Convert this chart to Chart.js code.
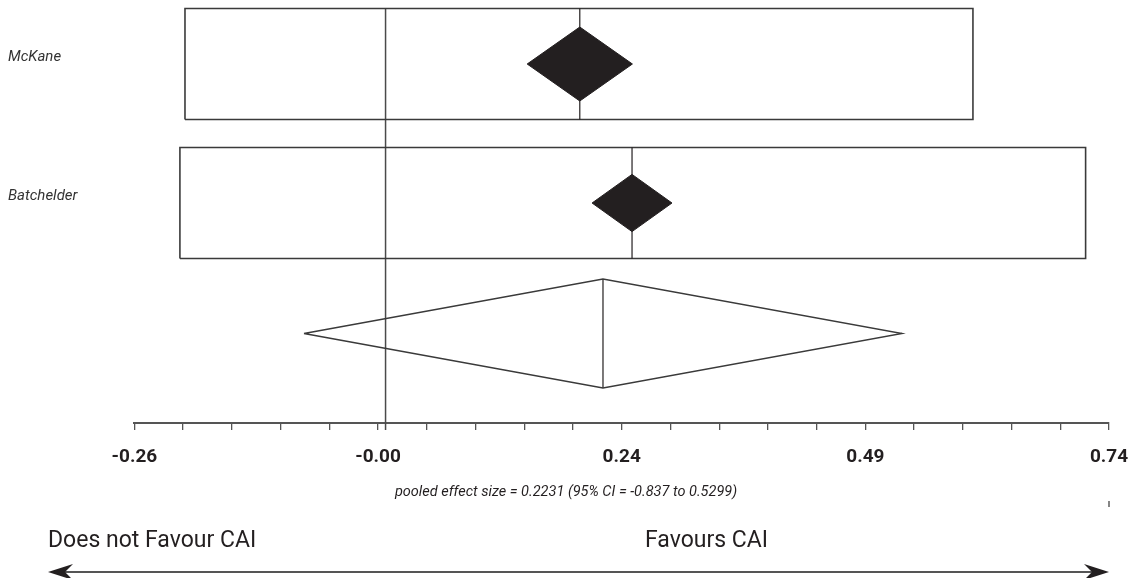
<!DOCTYPE html>
<html>
<head>
<meta charset="utf-8">
<script src="https://cdn.jsdelivr.net/npm/chart.js@4/dist/chart.umd.min.js"></script>
<style>
  html, body { margin: 0; padding: 0; background: #fff; }
  canvas { display: block; }
</style>
</head>
<body>
<canvas id="forest" width="1133" height="578"></canvas>
<script>
// data
const studies = ["McKane", "Batchelder"];
const effect = [0.1993, 0.2529];
const ciLow = [-0.2058, -0.2110];
const ciHigh = [0.6027, 0.7183];
const pooled = { effect: 0.2231, low: -0.0837, high: 0.5299 };
const tickLabels = ["-0.26", "-0.00", "0.24", "0.49", "0.74"];

// axis range and layout
const xMin = -0.2577, xMax = 0.7423, minorStep = 0.05;
const rowPos = [3.59, 2.20];
const pooledRow = 0.895;
const boxHalf = 0.555;
const diamondHalfW = [0.054, 0.041];
const diamondHalfH = [0.37, 0.286];
const pooledHalfH = 0.545;

const INK = "#231f20";
const LINE = "#3a3a3a";

function rect(lo, hi, c, h) {
  return [
    { x: lo, y: c - h }, { x: hi, y: c - h }, { x: hi, y: c + h },
    { x: lo, y: c + h }, { x: lo, y: c - h }
  ];
}

function diamond(lo, c, hi, y, hh) {
  return [
    { x: lo, y: y }, { x: c, y: y + hh }, { x: hi, y: y },
    { x: c, y: y - hh }, { x: lo, y: y }
  ];
}

function lineSet(data, color, width, extra) {
  return Object.assign({
    data, showLine: true, borderColor: color, borderWidth: width,
    pointRadius: 0, pointHoverRadius: 0, fill: false, tension: 0
  }, extra || {});
}

const datasets = [];

// zero line
datasets.push(lineSet([{ x: 0, y: rowPos[0] + boxHalf }, { x: 0, y: -0.07 }], "#4a4a4a", 1.5, { order: 5, clip: false }));

studies.forEach((s, i) => {
  datasets.push(lineSet(rect(ciLow[i], ciHigh[i], rowPos[i], boxHalf), LINE, 1.6, { order: 4 }));
  datasets.push(lineSet([{ x: effect[i], y: rowPos[i] - boxHalf }, { x: effect[i], y: rowPos[i] + boxHalf }], INK, 1.2, { order: 3 }));
  datasets.push(lineSet(diamond(effect[i] - diamondHalfW[i], effect[i], effect[i] + diamondHalfW[i], rowPos[i], diamondHalfH[i]), INK, 1, {
    order: 1, fill: "shape", backgroundColor: INK
  }));
});

// pooled estimate
datasets.push(lineSet(diamond(pooled.low, pooled.effect, pooled.high, pooledRow, pooledHalfH), LINE, 1.4, { order: 2 }));
datasets.push(lineSet([{ x: pooled.effect, y: pooledRow - pooledHalfH }, { x: pooled.effect, y: pooledRow + pooledHalfH }], INK, 1.2, { order: 3 }));

function drawArrowHead(ctx, tipX, y, dir) {
  ctx.beginPath();
  ctx.moveTo(tipX, y);
  ctx.lineTo(tipX + dir * 25, y - 8);
  ctx.lineTo(tipX + dir * 17, y);
  ctx.lineTo(tipX + dir * 25, y + 8);
  ctx.closePath();
  ctx.fill();
}

const annotations = {
  id: "annotations",
  afterDraw(chart) {
    const ctx = chart.ctx;
    const x = chart.scales.x;
    const right = x.getPixelForValue(xMax);
    ctx.save();
    ctx.fillStyle = INK;
    ctx.textBaseline = "middle";

    ctx.font = "italic 14.5px Roboto";
    ctx.textAlign = "center";
    ctx.fillText("pooled effect size = 0.2231 (95% CI = -0.837 to 0.5299)", 566, 492);

    ctx.strokeStyle = "#444";
    ctx.lineWidth = 1.3;
    ctx.beginPath();
    ctx.moveTo(right, 501);
    ctx.lineTo(right, 507);
    ctx.stroke();

    ctx.font = "23px Roboto";
    ctx.textAlign = "left";
    ctx.fillText("Does not Favour CAI", 48, 541);
    ctx.fillText("Favours CAI", 645, 541);

    ctx.strokeStyle = "#555";
    ctx.lineWidth = 2;
    ctx.beginPath();
    ctx.moveTo(60, 572);
    ctx.lineTo(right - 12, 572);
    ctx.stroke();
    drawArrowHead(ctx, 48, 572, 1);
    drawArrowHead(ctx, right, 572, -1);
    ctx.restore();
  }
};

Chart.defaults.font.family = "Roboto";
Chart.defaults.color = INK;

new Chart(document.getElementById("forest"), {
  type: "scatter",
  data: { datasets },
  options: {
    responsive: false,
    animation: false,
    layout: { padding: { left: 8, right: 24, top: 0, bottom: 105 } },
    plugins: { legend: { display: false }, tooltip: { enabled: false } },
    scales: {
      x: {
        type: "linear",
        min: xMin,
        max: xMax,
        afterBuildTicks(scale) {
          const n = Math.round((xMax - xMin) / minorStep);
          scale.ticks = [];
          for (let k = 0; k <= n; k++) scale.ticks.push({ value: xMin + k * minorStep });
        },
        afterFit(scale) {
          scale.height = 50;
          scale.paddingLeft = 0;
          scale.paddingRight = 0;
        },
        ticks: {
          autoSkip: false,
          maxRotation: 0,
          padding: 16,
          font: { size: 19, weight: "bold" },
          color: INK,
          callback: (v, i) => (i % 5 === 0 ? tickLabels[i / 5] : "")
        },
        grid: { display: true, drawOnChartArea: false, drawTicks: true, tickLength: 7, color: "#555", lineWidth: 1.3 },
        border: { display: true, color: "#555", width: 2 }
      },
      y: {
        type: "linear",
        min: 0,
        max: 4.23,
        afterBuildTicks(scale) {
          scale.ticks = rowPos.map(v => ({ value: v }));
        },
        afterFit(scale) {
          scale.width = 126.4;
          scale.paddingTop = 0;
          scale.paddingBottom = 0;
        },
        ticks: {
          crossAlign: "far",
          labelOffset: -7,
          font: { size: 15, style: "italic" },
          color: "#333",
          callback: (v, i) => studies[i]
        },
        grid: { display: false },
        border: { display: false }
      }
    }
  },
  plugins: [annotations]
});
</script>
</body>
</html>
